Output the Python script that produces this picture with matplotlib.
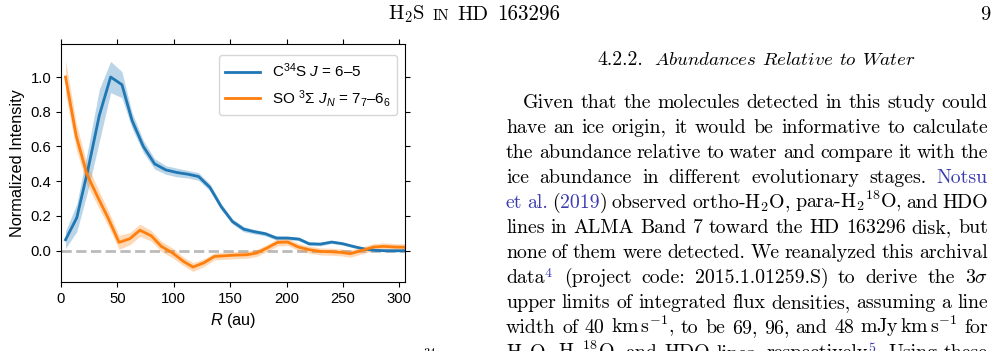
import matplotlib
matplotlib.use("Agg")
import matplotlib.pyplot as plt

# ---------------- data ----------------
R_c34s = [4, 14, 24, 34, 44, 54, 63, 73, 83, 93, 103, 113, 122, 132, 142, 152,
          162, 171, 181, 191, 201, 211, 220, 230, 240, 250, 259, 269, 279, 289, 299, 309]
c34s = [0.063, 0.19, 0.47, 0.78, 1.0, 0.956, 0.75, 0.60, 0.50, 0.465, 0.45, 0.44,
        0.427, 0.365, 0.254, 0.168, 0.124, 0.11, 0.098, 0.073, 0.073, 0.067, 0.04,
        0.038, 0.05, 0.04, 0.025, 0.01, 0.002, 0.0, 0.0, 0.0]
c34s_err = [0.05, 0.08, 0.12, 0.15, 0.09, 0.075, 0.045, 0.035, 0.03, 0.025, 0.025,
            0.022, 0.022, 0.02, 0.018, 0.015, 0.015, 0.013, 0.012, 0.012, 0.01, 0.01,
            0.01, 0.01, 0.008, 0.008, 0.008, 0.008, 0.006, 0.006, 0.006, 0.006]
R_so = [4, 13.5, 23, 32.5, 42, 51.5, 61, 70, 80, 89, 99, 108.5, 117, 126.5, 136,
        145.5, 155, 165, 173.5, 182.5, 192, 201, 210.5, 220, 230, 239.5, 249, 256.5,
        267, 277, 286, 296, 305]
so = [1.0, 0.66, 0.44, 0.31, 0.185, 0.048, 0.069, 0.118, 0.086, 0.025, -0.013,
      -0.061, -0.094, -0.07, -0.033, -0.029, -0.025, -0.023, -0.013, 0.015, 0.048,
      0.05, 0.021, 0.006, -0.004, -0.006, -0.01, -0.017, 0.002, 0.021, 0.025, 0.021,
      0.02]
so_err = [0.095, 0.075, 0.06, 0.05, 0.045, 0.04, 0.035, 0.035, 0.03, 0.03, 0.028,
          0.025, 0.025, 0.022, 0.02, 0.02, 0.02, 0.02, 0.02, 0.02, 0.02, 0.02, 0.02,
          0.02, 0.02, 0.02, 0.02, 0.02, 0.02, 0.02, 0.02, 0.02, 0.02]
xticks = [0, 50, 100, 150, 200, 250, 300]
yticks = [0.0, 0.2, 0.4, 0.6, 0.8, 1.0]
label_c34s = "C$^{34}$S $J$ = 6–5"
label_so = "SO $^3$Σ $J_N$ = 7$_7$–6$_6$"

# ---------------- style ----------------
plt.rcParams["font.family"] = ["Liberation Sans", "DejaVu Sans"]
plt.rcParams["mathtext.fontset"] = "custom"
plt.rcParams["mathtext.rm"] = "Liberation Sans"
plt.rcParams["mathtext.it"] = "Liberation Sans:italic"
plt.rcParams["mathtext.bf"] = "Liberation Sans:bold"

W, H = 995, 351
fig = plt.figure(figsize=(W / 100, H / 100), dpi=100)

ax = fig.add_axes([61 / W, 1 - 282 / H, (405 - 61) / W, (282 - 44) / H])
blue, orange = "#1f77b4", "#ff7f0e"
lo = [v - e for v, e in zip(c34s, c34s_err)]
hi = [v + e for v, e in zip(c34s, c34s_err)]
ax.fill_between(R_c34s, lo, hi, color=blue, alpha=0.3, lw=0)
lo = [v - e for v, e in zip(so, so_err)]
hi = [v + e for v, e in zip(so, so_err)]
ax.fill_between(R_so, lo, hi, color=orange, alpha=0.3, lw=0)
ax.plot(R_c34s, c34s, color=blue, lw=2, label=label_c34s)
ax.plot(R_so, so, color=orange, lw=2, label=label_so)
ax.axhline(0, color="#bbbbbb", ls="--", lw=2, zorder=0)
ax.set_xlim(0, 305)
ax.set_ylim(-0.18, 1.19)
ax.set_xticks(xticks)
ax.set_yticks(yticks)
ax.tick_params(which="both", top=True, right=True, labelsize=10.7, direction="out")
ax.set_xlabel("$R$ (au)", fontsize=11.7)
ax.set_ylabel("Normalized Intensity", fontsize=11.7)
ax.legend(loc="upper right", bbox_to_anchor=(1.0, 0.985), fontsize=11,
          handlelength=2.3)

# ---------------- page text ----------------
page = fig.add_axes([0, 0, 1, 1], zorder=-1)
page.set_xlim(0, W)
page.set_ylim(H, 0)
page.axis("off")
renderer = fig.canvas.get_renderer()
LINK = "#3b3bb0"
BODY = 14.3


def mk(s, color="black", size=BODY, x=0, y=0):
    t = page.text(x, y, s, color=color, fontsize=size, family="cmr10",
                  math_fontfamily="cm", va="baseline", ha="left")
    return t, t.get_window_extent(renderer).width


def row(items, y, x0, gap):
    """items: list of (string, size). Place sequentially with a gap."""
    made = [mk(s, "black", sz, 0, y) for s, sz in items]
    x = x0
    for t, w in made:
        t.set_x(x)
        x += w + gap


def place_line(tokens, y, x0, x1, size=BODY, min_gap=0.0):
    made = []
    for tok in tokens:
        parts = []
        for s, c in tok:
            t, w = mk(s, c, size, 0, y)
            parts.append((t, w))
        made.append(parts)
    widths = [sum(w for _, w in p) for p in made]
    gap = max(min_gap, (x1 - x0 - sum(widths)) / (len(made) - 1))
    x = x0
    for parts, wt in zip(made, widths):
        xx = x
        for t, w in parts:
            t.set_x(xx)
            xx += w
        x += wt + gap


def toks(line, color="black"):
    return [[(w, color)] for w in line.split()]


# running header
row([("H$_2$S", 14.8), ("IN", 10.8), ("HD", 14.8), ("163296", 15.2)], 20, 388, 8)
mk("9", size=14.8, x=980, y=20)

# section heading
mk("4.2.2.", size=BODY, x=597, y=65)
place_line([[(r"$\mathit{%s}$" % w, "black")] for w in
            ["Abundances", "Relative", "to", "Water"]], 65, 654, 897, size=13.6,
           min_gap=5.5)

x0, x1 = 506, 988
lines = [
    toks("Given that the molecules detected in this study could"),
    toks("have an ice origin, it would be informative to calculate"),
    toks("the abundance relative to water and compare it with the"),
    toks("ice abundance in different evolutionary stages.") + [[("Notsu", LINK)]],
    [[("et", LINK)], [("al.", LINK)], [("(", "black"), ("2019", LINK), (")", "black")]]
    + toks("observed ortho-H$_2$O, para-H$_2{}^{18}$O, and HDO"),
    toks("lines in ALMA Band 7 toward the HD 163296 disk, but"),
    toks("none of them were detected. We reanalyzed this archival"),
    [[("data", "black"), ("$^4$", LINK)]]
    + toks(r"(project code: 2015.1.01259.S) to derive the 3$\sigma$"),
    toks("upper limits of integrated flux densities, assuming a line"),
    toks(r"width of 40 $\mathrm{km\,s^{-1}}$, to be 69, 96, and 48 $\mathrm{mJy\,km\,s^{-1}}$ for"),
    toks("H$_2$O, H$_2{}^{18}$O, and HDO lines,")
    + [[("respectively", "black"), ("$^5$", LINK), (".", "black")]]
    + toks("Using these"),
]
for i, tk in enumerate(lines):
    xs = x0 + 17 if i == 0 else x0
    place_line(tk, 108.3 + 25 * i, xs, x1)

# partially visible caption superscript at the bottom edge
mk("34", size=9, x=423, y=357)

fig.savefig("out.png", dpi=100)
